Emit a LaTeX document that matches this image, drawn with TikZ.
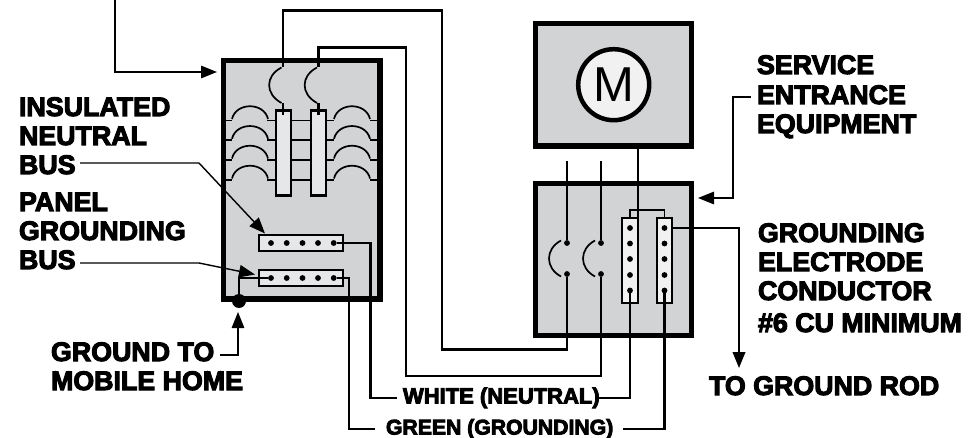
\documentclass[tikz,border=0pt]{standalone}
\usepackage{fontspec}
\setmainfont{Liberation Sans}
\newfontfamily\blk{Liberation Sans Bold}[FakeBold=4]
\usetikzlibrary{arrows.meta}
\definecolor{boxgray}{HTML}{D1D3D4}
\definecolor{barfill}{HTML}{E6E7E8}
\definecolor{busfill}{HTML}{F1F1F2}
\tikzset{
  x=1pt,y=-1pt,
  heavybox/.style={draw=black,line width=5.5pt,fill=boxgray,inner sep=0pt,outer sep=0pt,miter limit=10},
  breakerbar/.style={draw=black,line width=2.2pt,fill=barfill,inner sep=0pt,outer sep=0pt,minimum width=15.5pt,minimum height=85pt},
  busbar/.style={draw=black,line width=2pt,fill=barfill,inner sep=0pt,outer sep=0pt,minimum width=84pt,minimum height=16.5pt},
  vbus/.style={draw=black,line width=2pt,fill=busfill,inner sep=0pt,outer sep=0pt,minimum width=15.5pt,minimum height=84pt},
  term/.style={circle,fill=black,inner sep=0pt,outer sep=0pt,minimum size=5.8pt},
  wire/.style={draw=black,line width=2.1pt,line join=miter},
  lead/.style={draw=black,line width=1.4pt},
  leadarrow/.style={lead,-{Triangle[length=16pt,width=12.5pt]},shorten >=0pt},
  arcline/.style={draw=black,line width=1.7pt},
  lab/.style={inner sep=0pt,outer sep=0pt,anchor=base west,align=left,font=\blk\fontsize{26.8}{29}\selectfont},
  smalllab/.style={inner sep=0pt,outer sep=0pt,anchor=base west,font=\blk\fontsize{22}{26}\selectfont},
}
\begin{document}
\begin{tikzpicture}
\useasboundingbox (0,0) rectangle (974,438);

% free coordinates
\coordinate (wA1) at (283,10.5);
\coordinate (wA2) at (442,349.5);
\coordinate (wB1) at (318.5,47.5);
\coordinate (wB2) at (406,376);
\coordinate (wN1) at (370.5,398);
\coordinate (wG1) at (349,429);
\coordinate (wNend) at (397,398);
\coordinate (wNend2) at (598,398);
\coordinate (wGend) at (375,429);
\coordinate (wGend2) at (623,429);

% boxes
\node[heavybox,minimum width=156.5pt,minimum height=238pt] (panel) at (301.75,179.75) {};
\node[heavybox,minimum width=156pt,minimum height=122.5pt] (motor) at (613.5,84.75) {};
\node[heavybox,minimum width=156pt,minimum height=152pt] (service) at (613.5,259.5) {};

% branch-circuit rows
\foreach \r in {120.5,140.3,160,180}{
  \draw[arcline] (226,\r) -- (232,\r);
  \draw[arcline] (267,\r) -- (334,\r);
  \draw[arcline] (370,\r) -- (377,\r);
  \draw[arcline] (232,\r-1.5) .. controls (236,\r-18.5) and (264,\r-18.5) .. (268,\r-1.5);
  \draw[arcline] (334,\r-1.5) .. controls (338,\r-18.5) and (366,\r-18.5) .. (370,\r-1.5);
}
\node[breakerbar] (barA) at (283.5,153) {};
\node[breakerbar] (barB) at (318.5,153) {};

% main breakers
\coordinate (mA1) at (283,67);
\coordinate (mA2) at (283,103);
\coordinate (mB1) at (318.5,67);
\coordinate (mB2) at (318.5,103);
\draw[arcline] (281.5,67.5) .. controls (265,76) and (265,94) .. (281.5,103);
\draw[arcline] (317,67.5) .. controls (300.5,76) and (300.5,94) .. (317,103);
\draw[wire] (mA2) -- (283,115);
\draw[wire] (mB2) -- (318.5,115);

% buses in the panel
\node[busbar] (nbus) at (300.5,243) {};
\node[busbar] (gbus) at (300.5,278) {};
\foreach \i/\x in {1/271,2/286.7,3/302.5,4/318,5/333.7}{
  \node[term] (n\i) at (\x,243) {};
  \node[term] (g\i) at (\x,278) {};
}
\node[circle,fill=black,inner sep=0pt,outer sep=0pt,minimum size=14pt] (gdot) at (239,301) {};

% service equipment
\node[vbus] (vA) at (630,260.5) {};
\node[vbus] (vB) at (664.5,260.5) {};
\foreach \i/\y in {1/228,2/243.5,3/259,4/275,5/290.5}{
  \node[term] (a\i) at (630,\y) {};
  \node[term] (b\i) at (664.5,\y) {};
}
\node[term] (s1t) at (567,243) {};
\node[term] (s1b) at (567,274) {};
\node[term] (s2t) at (601,243) {};
\node[term] (s2b) at (601,274) {};
\draw[arcline] (561,240.5) .. controls (545,249) and (545,268) .. (561,276.5);
\draw[arcline] (595,240.5) .. controls (579,249) and (579,268) .. (595,276.5);

% motor
\node[circle,draw=black,line width=4.5pt,fill=busfill,minimum size=71pt,inner sep=0pt,outer sep=0pt,font=\fontsize{49}{49}\selectfont] (mcirc) at (613.7,84.7) {M};

% wires
\coordinate (lineA) at (567,161);
\coordinate (lineB) at (601,161);
\draw[wire] (lineA) -- (s1t);
\draw[wire] (lineB) -- (s2t);
\draw[wire] (283,61) -- (mA1);
\draw[wire] (318.5,61) -- (mB1);
\draw[wire] (mA1) -- (wA1) -- (wA1 -| wA2) -- (wA2) -- (wA2 -| s1b) -- (s1b);
\draw[wire] (mB1) -- (wB1) -- (wB1 -| wB2) -- (wB2) -- (wB2 -| s2b) -- (s2b);
\coordinate (neutralOut) at (638.3,148);
\coordinate (neutralIn) at (638.3,218);
\draw[wire,line width=1.8pt] (neutralOut) -- (neutralIn);
\draw[wire,line width=1.8pt] (630,218.5) -- (630,210) -- (664.5,210) -- (664.5,218.5);
\draw[wire] (n5) -| (wN1) -- (wNend);
\draw[wire] (g5) -| (wG1) -- (wGend);
\draw[wire] (wNend2) -- (wNend2 -| a5) -- (a5);
\draw[wire] (wGend2) -- (wGend2 -| b5) -- (b5);
\draw[wire] (gdot.center) -- (239,278) -- (g1);
\coordinate (rodCorner) at (739,228);
\coordinate (rodTip) at (739,368);
\draw[wire,-{Triangle[length=16pt,width=12.5pt]}] (672.3,228) -- (rodCorner) -- (rodTip);

% labels
\node[lab] (insbus) at (19,174) {INSULATED\\NEUTRAL\\BUS};
\node[lab] (pnlbus) at (19,269) {PANEL\\GROUNDING\\BUS};
\node[lab] (gnd) at (51,390) {GROUND TO\\MOBILE HOME};
\node[lab] (svc) at (757,133) {SERVICE\\[1pt]ENTRANCE\\EQUIPMENT};
\node[lab] (gec) at (758,332) {GROUNDING\\ELECTRODE\\CONDUCTOR\\[3pt]\#6 CU MINIMUM};
\node[lab] (rod) at (709,395) {TO GROUND ROD};
\node[smalllab] (white) at (403,403.5) {WHITE (NEUTRAL)};
\node[smalllab,font=\blk\fontsize{21.2}{26}\selectfont] (green) at (386,434.5) {GREEN (GROUNDING)};

% leaders
\coordinate (topFree) at (115,0);
\coordinate (topCorner) at (115,72);
\coordinate (topTip) at (217,72);
\draw[leadarrow] (topFree) -- (topCorner) -- (topTip);
\coordinate (i1) at (80,163);
\coordinate (i2) at (199,163);
\coordinate (iTip) at (265,233.5);
\draw[leadarrow] (i1) -- (i2) -- (iTip);
\coordinate (p1) at (80,263);
\coordinate (p2) at (199,263);
\coordinate (pTip) at (255,274.5);
\draw[leadarrow] (p1) -- (p2) -- (pTip);
\coordinate (gf) at (220,355);
\coordinate (gc) at (238,355);
\coordinate (gTip) at (238,312);
\draw[leadarrow] (gf) -- (gc) -- (gTip);
\coordinate (sf) at (751,97);
\coordinate (sc) at (733,97);
\coordinate (sc2) at (733,198);
\coordinate (sTip) at (698,198);
\draw[leadarrow] (sf) -- (sc) -- (sc2) -- (sTip);
\end{tikzpicture}
\end{document}
